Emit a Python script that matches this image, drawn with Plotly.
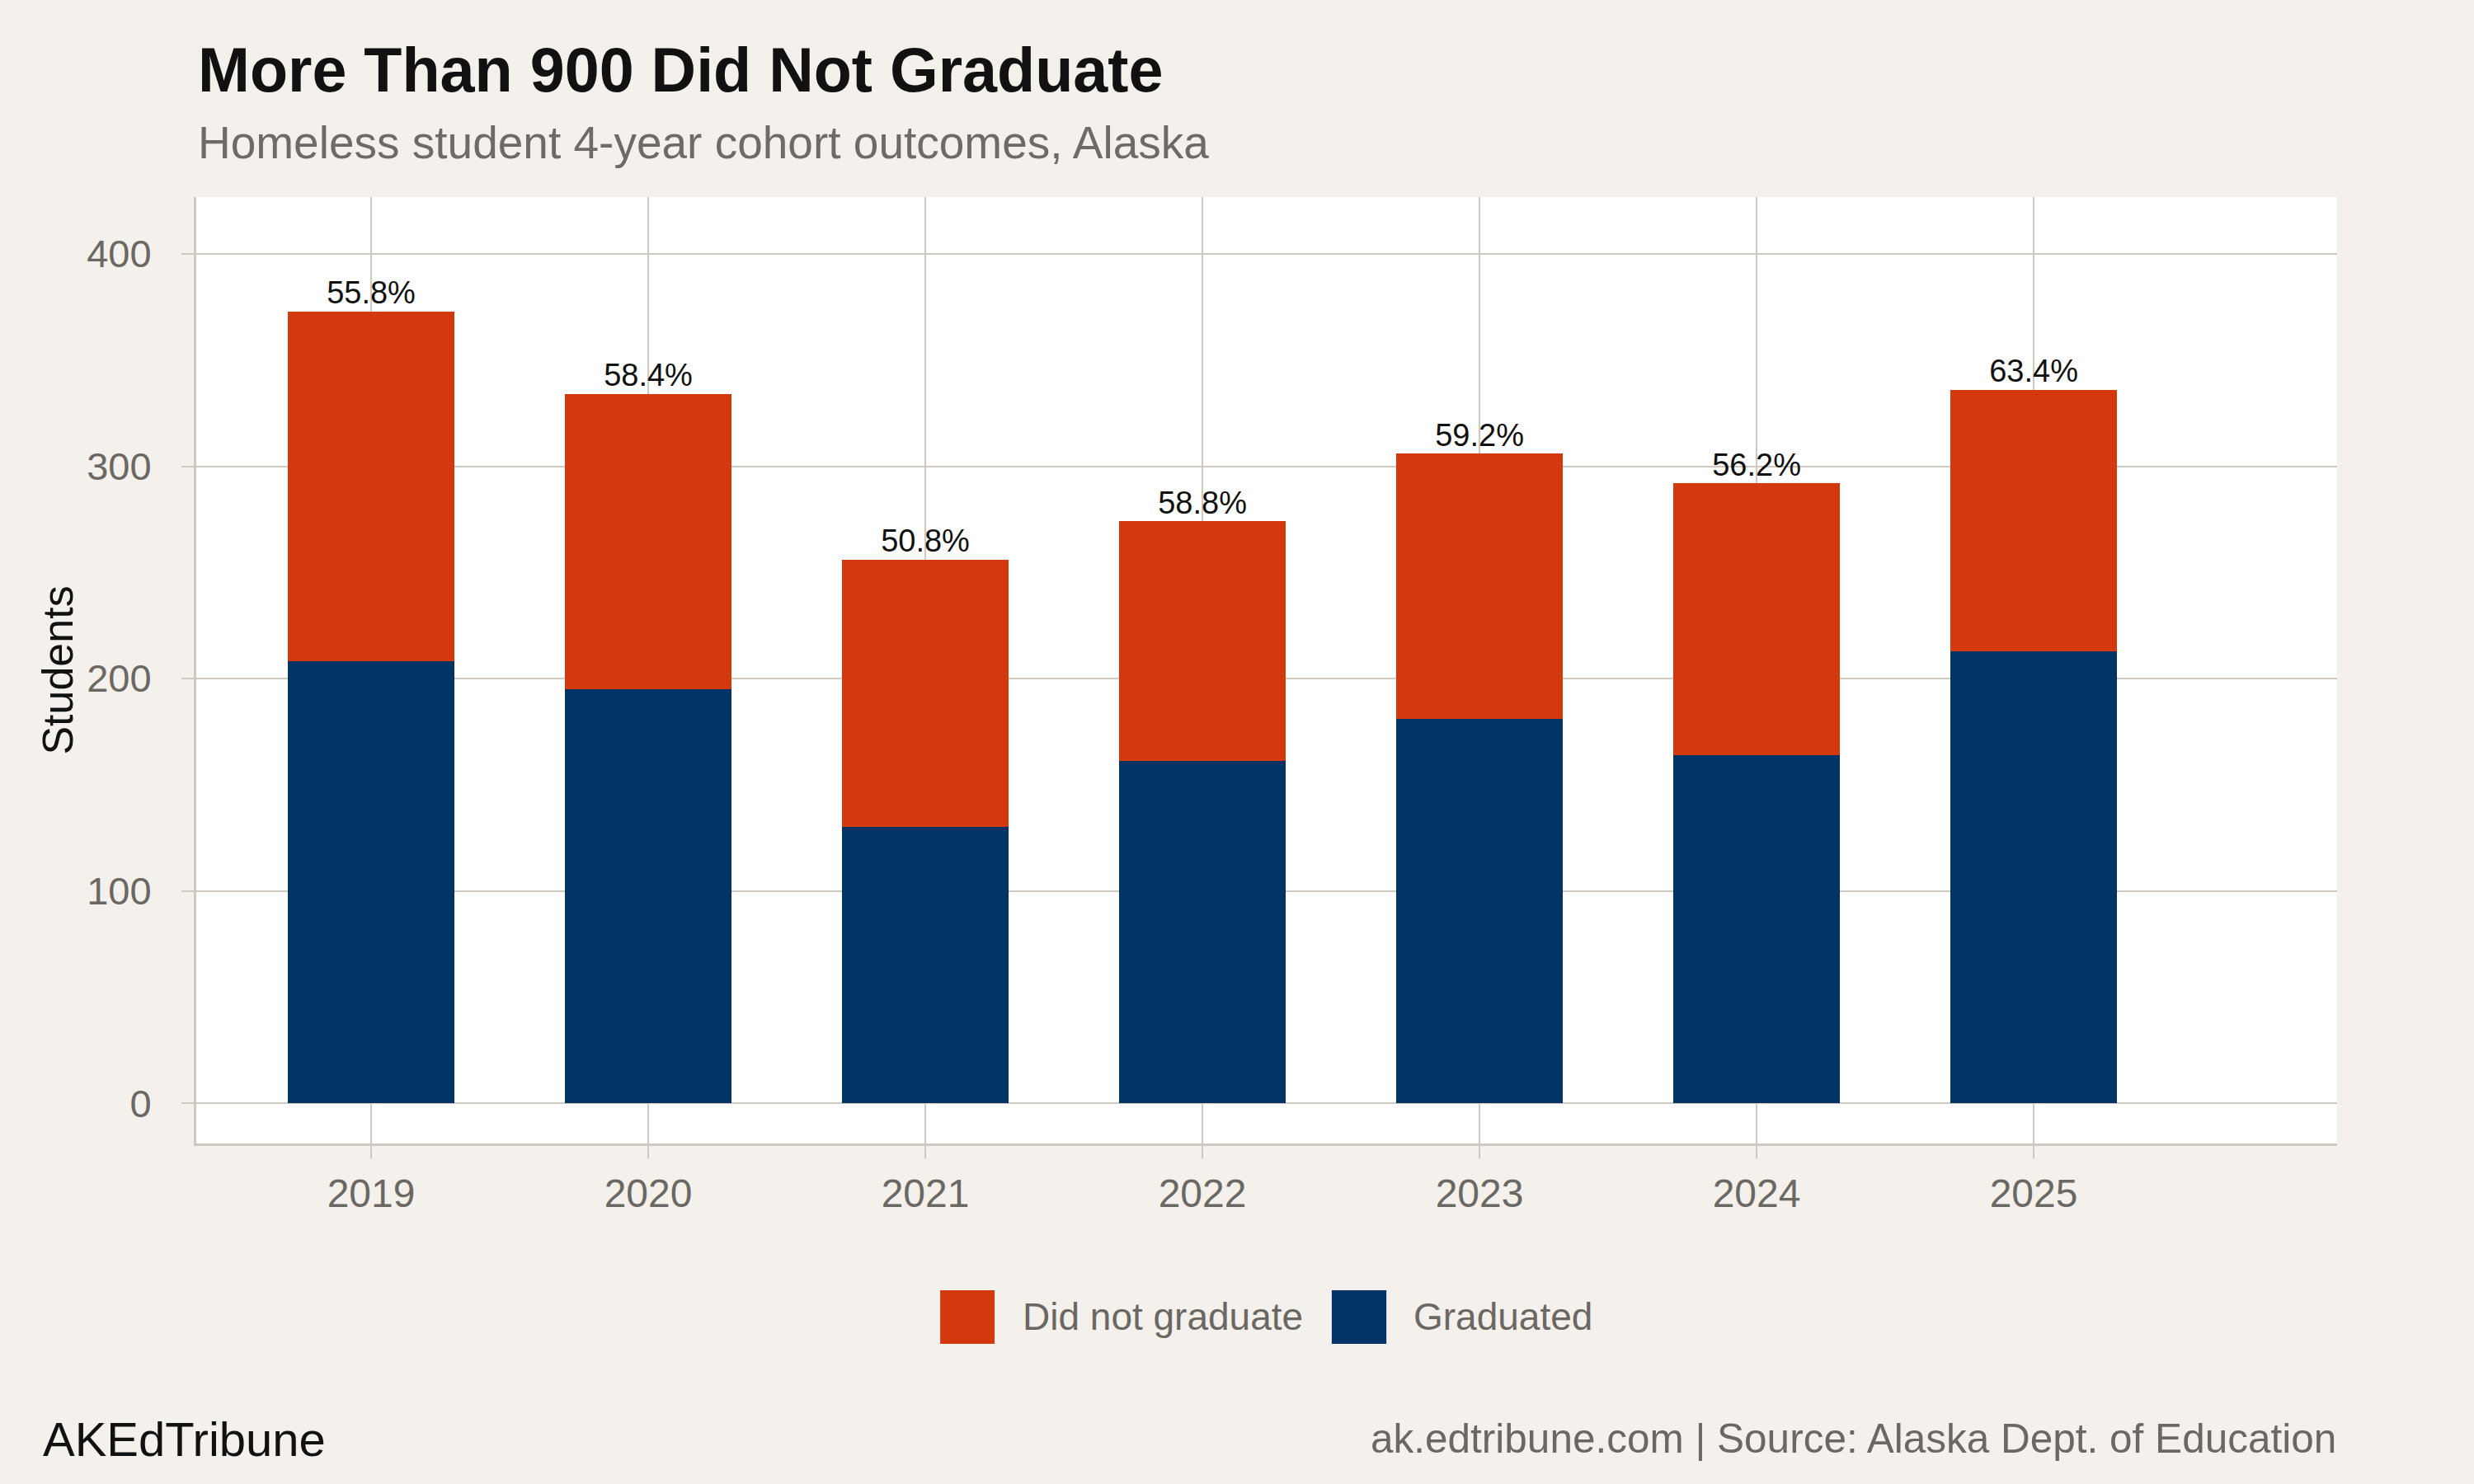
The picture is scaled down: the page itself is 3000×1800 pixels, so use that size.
import plotly.graph_objects as go

# ---- data ----
years = [2019, 2020, 2021, 2022, 2023, 2024, 2025]
graduated = [208, 195, 130, 161, 181, 164, 213]
did_not_graduate = [165, 139, 126, 113, 125, 128, 123]
y_ticks = [0, 100, 200, 300, 400]

totals = [g + d for g, d in zip(graduated, did_not_graduate)]
pct_labels = [f"{100 * g / t:.1f}%" for g, t in zip(graduated, totals)]

# ---- style ----
FONT = "Liberation Sans, Arial, Helvetica, sans-serif"
BG = "#f4f1ec"
GRID = "#cfc9bf"
RED = "#d4380d"
NAVY = "#003366"
GREY_TXT = "#6b6763"

fig = go.Figure()
fig.add_trace(go.Bar(x=years, y=graduated, name="Graduated", marker_color=NAVY,
                     marker_line_width=0, width=0.6, showlegend=False))
fig.add_trace(go.Bar(x=years, y=did_not_graduate, name="Did not graduate", marker_color=RED,
                     marker_line_width=0, width=0.6, showlegend=False))
fig.add_trace(go.Scatter(x=years, y=totals, mode="text", text=pct_labels,
                         textposition="top center",
                         textfont=dict(family=FONT, size=38, color="#111111"),
                         showlegend=False, hoverinfo="skip"))

fig.update_layout(
    width=3000, height=1800,
    barmode="stack",
    paper_bgcolor=BG, plot_bgcolor="white",
    margin=dict(l=238, r=166, t=239, b=413),
    font=dict(family=FONT),
    showlegend=False,
)

fig.update_xaxes(
    range=[2018.369, 2026.095],
    tickvals=years, ticktext=[str(y) for y in years],
    showgrid=True, gridcolor=GRID, gridwidth=2,
    showline=True, linecolor=GRID, linewidth=3,
    ticks="outside", ticklen=15, tickwidth=2, tickcolor=GRID,
    tickfont=dict(family=FONT, size=48, color=GREY_TXT),
    ticklabelstandoff=1,
    zeroline=False,
)
fig.update_yaxes(
    range=[-19, 426.8],
    tickvals=y_ticks, ticktext=[str(v) for v in y_ticks],
    showgrid=True, gridcolor=GRID, gridwidth=2,
    showline=True, linecolor=GRID, linewidth=3,
    ticks="outside", ticklen=15, tickwidth=2, tickcolor=GRID,
    tickfont=dict(family=FONT, size=47, color=GREY_TXT),
    ticklabelstandoff=27,
    zeroline=False,
    title=dict(text="Students", font=dict(family=FONT, size=52, color="#111111"), standoff=0),
)

ann = []
ann.append(dict(text="<b>More Than 900 Did Not Graduate</b>", xref="paper", yref="paper",
                x=0, y=1.1341, xanchor="left", yanchor="middle", showarrow=False,
                font=dict(family=FONT, size=75.5, color="#111111")))
ann.append(dict(text="Homeless student 4-year cohort outcomes, Alaska", xref="paper", yref="paper",
                x=0, y=1.0579, xanchor="left", yanchor="middle", showarrow=False,
                font=dict(family=FONT, size=55, color="#6e6a66")))
# legend (manual)
ann.append(dict(text="Did not graduate", xref="paper", yref="paper",
                x=0.3852, y=-0.1829, xanchor="left", yanchor="middle", showarrow=False,
                font=dict(family=FONT, size=46, color=GREY_TXT)))
ann.append(dict(text="Graduated", xref="paper", yref="paper",
                x=0.5678, y=-0.1829, xanchor="left", yanchor="middle", showarrow=False,
                font=dict(family=FONT, size=46, color=GREY_TXT)))
# footer
ann.append(dict(text="AKEdTribune", xref="paper", yref="paper",
                x=-0.0725, y=-0.3127, xanchor="left", yanchor="middle", showarrow=False,
                font=dict(family=FONT, size=58, color="#111111")))
ann.append(dict(text="ak.edtribune.com | Source: Alaska Dept. of Education", xref="paper", yref="paper",
                x=1.0004, y=-0.311, xanchor="right", yanchor="middle", showarrow=False,
                font=dict(family=FONT, size=49.5, color=GREY_TXT)))
fig.update_layout(annotations=ann)

fig.add_shape(type="rect", xref="paper", yref="paper", x0=0.3475, x1=0.3729, y0=-0.2117, y1=-0.1551,
              fillcolor=RED, line_width=0)
fig.add_shape(type="rect", xref="paper", yref="paper", x0=0.5304, x1=0.5559, y0=-0.2117, y1=-0.1551,
              fillcolor=NAVY, line_width=0)

fig.write_html("out.html")
